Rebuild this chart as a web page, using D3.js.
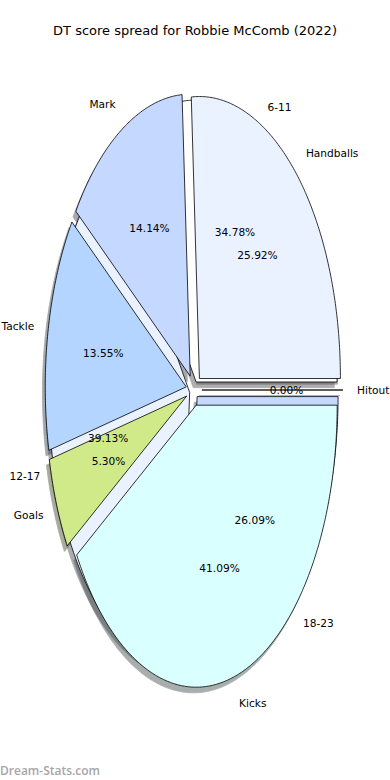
<!DOCTYPE html>
<html>
<head>
<meta charset="utf-8">
<script src="https://cdn.jsdelivr.net/npm/d3@7"></script>
<style>
  body { margin: 0; background: #fff; }
  text { font-family: "DejaVu Sans", sans-serif; fill: #000; }
</style>
</head>
<body>
<div id="chart"></div>
<script>
// stat categories (outer pie) and score bands (inner pie), percentages
const statLabels = ['Handballs', 'Mark', 'Tackle', 'Goals', 'Kicks', 'Hitout'];
const statValues = [25.92, 14.14, 13.55, 5.30, 41.09, 0.00];
const statColors = ['#eaf1ff', '#c5d8ff', '#b3d5ff', '#d0ea8a', '#d9ffff', '#c5d8ff'];

const bandLabels = ['6-11', '12-17', '18-23'];
const bandValues = [34.78, 39.13, 26.09];
const bandColors = ['#ffffff', '#eaf1ff', '#c5d8ff'];

const width = 390, height = 780;
const cx = 194, cy = 390, rx = 141, ry = 282;

const svg = d3.select('#chart')
    .append('svg')
    .attr('width', width)
    .attr('height', height);

// unit circle -> stretched ellipse (axes aspect is not equal)
const x = d3.scaleLinear().domain([-1, 1]).range([cx - rx, cx + rx]);
const y = d3.scaleLinear().domain([-1, 1]).range([cy + ry, cy - ry]);

// angles counterclockwise from 3 o'clock, like matplotlib
const pie = d3.pie().sort(null).value(d => d).startAngle(0).endAngle(2 * Math.PI);

const line = d3.line().x(p => x(p[0])).y(p => y(p[1]));

function wedgePath(d, explode, sx, sy) {
    const m = (d.startAngle + d.endAngle) / 2;
    const ox = explode * Math.cos(m) + sx;
    const oy = explode * Math.sin(m) + sy;
    const n = Math.max(1, Math.ceil((d.endAngle - d.startAngle) / 0.01));
    const pts = [[ox, oy]];
    for (let i = 0; i <= n; i++) {
        const t = d.startAngle + (d.endAngle - d.startAngle) * i / n;
        pts.push([ox + Math.cos(t), oy + Math.sin(t)]);
    }
    return line(pts) + 'Z';
}

function shadowColor(c) {
    const r = d3.rgb(c);
    return d3.rgb(r.r * 0.3, r.g * 0.3, r.b * 0.3).toString();
}

const inner = pie(bandValues).map((d, i) => ({...d, label: bandLabels[i], color: bandColors[i], explode: 0.032}));
const outer = pie(statValues).map((d, i) => ({...d, label: statLabels[i], color: statColors[i], explode: 0.056}));
const all = inner.concat(outer);

// shadows sit under every wedge
svg.append('g').selectAll('path')
    .data(all)
    .enter().append('path')
    .attr('d', d => wedgePath(d, d.explode, -0.02, -0.02))
    .attr('fill', d => shadowColor(d.color))
    .attr('stroke', d => shadowColor(d.color))
    .attr('stroke-width', 0.8)
    .attr('opacity', 0.45);

svg.append('g').selectAll('path')
    .data(all)
    .enter().append('path')
    .attr('d', d => wedgePath(d, d.explode, 0, 0))
    .attr('fill', d => d.color)
    .attr('stroke', '#000')
    .attr('stroke-width', 0.8)
    .attr('stroke-linejoin', 'miter');

const pct = d3.format('.2f');

// category labels outside, percentages inside
all.forEach(d => {
    const m = (d.startAngle + d.endAngle) / 2;
    const c = Math.cos(m), s = Math.sin(m);
    const lr = 1.1 + d.explode;
    svg.append('text')
        .attr('x', x(lr * c))
        .attr('y', y(lr * s))
        .attr('text-anchor', c >= 0 ? 'start' : 'end')
        .attr('dominant-baseline', 'central')
        .style('font-size', '10.6px')
        .text(d.label);
    const pr = 0.6 + d.explode;
    svg.append('text')
        .attr('x', x(pr * c))
        .attr('y', y(pr * s))
        .attr('text-anchor', 'middle')
        .attr('dominant-baseline', 'central')
        .style('font-size', '10.6px')
        .text(pct(d.value) + '%');
});

svg.append('text')
    .attr('x', width / 2)
    .attr('y', 30)
    .attr('text-anchor', 'middle')
    .attr('dominant-baseline', 'central')
    .style('font-size', '13px')
    .text('DT score spread for Robbie McComb (2022)');

svg.append('text')
    .attr('x', 0)
    .attr('y', 770)
    .attr('dominant-baseline', 'central')
    .style('font-family', '"Open Sans", sans-serif')
    .style('font-weight', '600')
    .style('font-size', '12px')
    .style('fill', '#a6a6a6')
    .text('Dream-Stats.com');
</script>
</body>
</html>
